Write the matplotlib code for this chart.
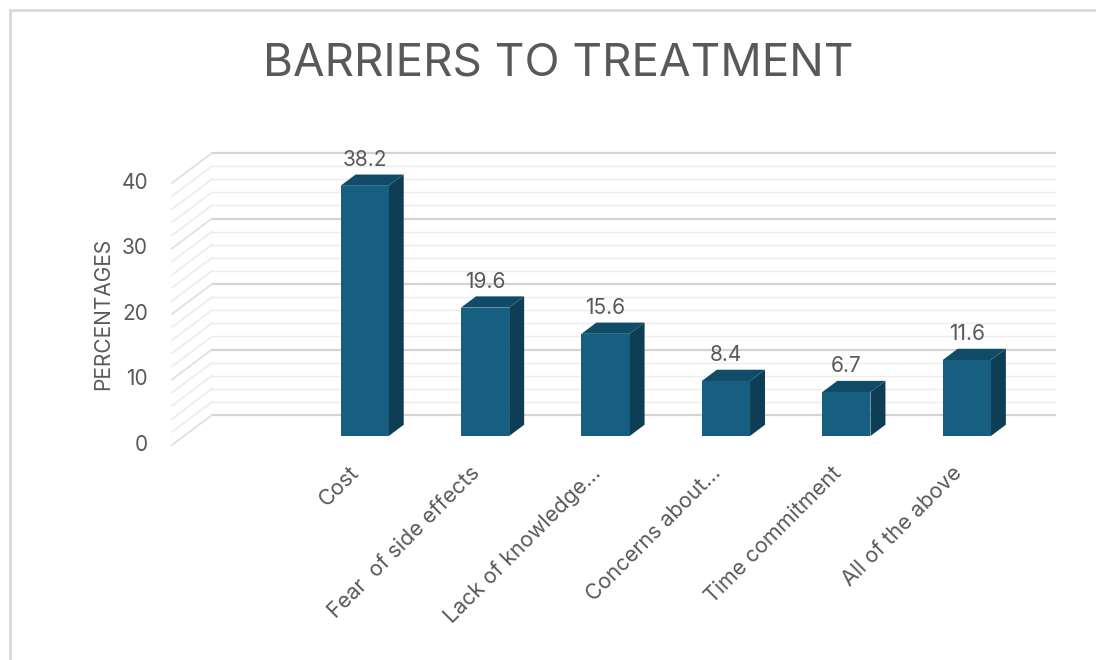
import matplotlib.pyplot as plt
from matplotlib.patches import Polygon
from matplotlib.lines import Line2D

plt.rcParams['font.family'] = ['Inter', 'DejaVu Sans']

# data (first slot is empty in the original chart)
categories = ["", "Cost", "Fear  of side effects", "Lack of knowledge...",
              "Concerns about...", "Time commitment", "All of the above"]
values = [None, 38.2, 19.6, 15.6, 8.4, 6.7, 11.6]
major_ticks = [0, 10, 20, 30, 40]
minor_step = 2

front_col = '#165f80'
top_col = '#104c68'
side_col = '#0d3e55'
text_col = '#595959'

# depth projection (data units for full depth)
DX = 0.332
DY = 4.58


def proj(x, y, d):
    return (x + d * DX, y + d * DY)


fig = plt.figure(figsize=(10.96, 6.6), dpi=100)
ax = fig.add_axes([172 / 1096, 1 - 445 / 660, 883 / 1096, 292 / 660])
n = len(categories)
ax.set_xlim(-0.5, n - 0.5 + DX)
ax.set_ylim(0, 40 + DY)
ax.axis('off')

# walls gridlines
y = 0
while y <= 40:
    major = y % 10 == 0
    x0, y0 = proj(-0.5, y, 1)
    x1, y1 = proj(n - 0.5, y, 1)
    ax.plot([x0, x1], [y0, y1], color='#d4d4d4' if major else '#ececec',
            lw=1.6 if major else 1.0, zorder=1, clip_on=False)
    sx, sy = proj(-0.5, y, 0)
    ax.plot([sx, x0], [sy, y0], color='#dedede' if major else '#ececec',
            lw=1.2, zorder=1, clip_on=False)
    y += minor_step

# y tick labels
for t in major_ticks:
    ax.text(-0.5 - 0.2, t, str(t), ha='right', va='center', fontsize=15,
            color=text_col)
ax.text(-1.07, 20, 'PERCENTAGES', rotation=90, ha='center', va='center',
        fontsize=15, color=text_col)

# 3D bars
hw = 0.2
d0, d1 = 0.3, 0.675
for i, v in enumerate(values):
    if v is None:
        continue
    xl, xr = i - hw, i + hw
    front = [proj(xl, 0, d0), proj(xr, 0, d0), proj(xr, v, d0), proj(xl, v, d0)]
    side = [proj(xr, 0, d0), proj(xr, 0, d1), proj(xr, v, d1), proj(xr, v, d0)]
    top = [proj(xl, v, d0), proj(xr, v, d0), proj(xr, v, d1), proj(xl, v, d1)]
    ax.add_patch(Polygon(side, closed=True, fc=side_col, ec='none', zorder=3))
    ax.add_patch(Polygon(top, closed=True, fc=top_col, ec='none', zorder=3))
    ax.add_patch(Polygon(front, closed=True, fc=front_col, ec='none', zorder=4))
    lx, ly = proj(i, v, d0)
    ax.text(lx, ly + 2.4, f"{v}", ha='center', va='bottom', fontsize=15,
            color=text_col)

# category labels
for i, c in enumerate(categories):
    if not c:
        continue
    ax.text(i + 0.03, -3.8, c, rotation=45, rotation_mode='anchor',
            ha='right', va='center', fontsize=15.5, color=text_col)

# title
fig.text(558 / 1096, 1 - 64 / 660, 'BARRIERS TO TREATMENT', ha='center',
         va='center', fontsize=33, color=text_col)

# chart frame (left and top edges visible)
fig.add_artist(Line2D([10 / 1096, 10 / 1096], [0, 1 - 10 / 660],
                      transform=fig.transFigure, color='#d9d9d9', lw=2))
fig.add_artist(Line2D([10 / 1096, 1], [1 - 10 / 660, 1 - 10 / 660],
                      transform=fig.transFigure, color='#d9d9d9', lw=2))

fig.savefig('out.png', dpi=100)
